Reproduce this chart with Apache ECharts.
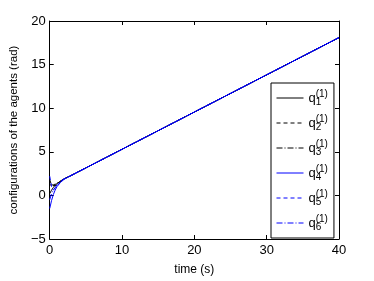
<!DOCTYPE html>
<html><head><meta charset="utf-8">
<script src="https://cdn.jsdelivr.net/npm/echarts@6/dist/echarts.min.js"></script>
<style>html,body{margin:0;padding:0;background:#fff}#c{width:374px;height:281px}</style>
</head><body><div id="c"></div>
<script>
var time = [0, 0.25, 0.5, 0.75, 1, 1.5, 2, 3, 40];
var q1 = [0.2, 0.6, 0.9, 1.2, 1.4, 1.65, 1.9, 2.3, 18.1];
var q2 = [1.8, 1.2, 1.0, 1.1, 1.3, 1.6, 1.9, 2.3, 18.1];
var q3 = [1.2, 1.4, 1.2, 1.2, 1.4, 1.65, 1.9, 2.3, 18.1];
var q4 = [-1.5, -0.6, 0.1, 0.6, 1.0, 1.5, 1.85, 2.3, 18.1];
var q5 = [2.2, 1.0, 0.6, 0.8, 1.1, 1.55, 1.9, 2.3, 18.1];
var q6 = [-0.5, 0.2, 0.6, 0.9, 1.2, 1.6, 1.9, 2.3, 18.1];
var xTicks = [0, 10, 20, 30, 40];
var yTicks = [-5, 0, 5, 10, 15, 20];

var names = ['q1', 'q2', 'q3', 'q4', 'q5', 'q6'];
var data = [q1, q2, q3, q4, q5, q6];
var colors = ['#000000', '#000000', '#000000', '#0000ff', '#0000ff', '#0000ff'];
var types = ['solid', [4, 3], [6, 2, 1, 2], 'solid', [4, 3], [6, 2, 1, 2]];
var font = 'Liberation Sans, Arial, sans-serif';

function pairs(ys) { return time.map(function (t, i) { return [t, ys[i]]; }); }

var series = names.map(function (n, i) {
  return {
    name: n, type: 'line', data: pairs(data[i]), symbol: 'none', smooth: false,
    lineStyle: { color: colors[i], width: 1, type: types[i] },
    itemStyle: { color: colors[i] },
    z: i >= 3 ? 3 : 2
  };
});

var axCommonX = {
  type: 'value', min: xTicks[0], max: xTicks[xTicks.length - 1], interval: 10,
  axisLine: { onZero: false, lineStyle: { color: '#000', width: 1 } },
  axisTick: { inside: true, length: 4, lineStyle: { color: '#000' } },
  splitLine: { show: false }
};
var axCommonY = {
  type: 'value', min: yTicks[0], max: yTicks[yTicks.length - 1], interval: 5,
  axisLine: { onZero: false, lineStyle: { color: '#000', width: 1 } },
  axisTick: { inside: true, length: 4, lineStyle: { color: '#000' } },
  splitLine: { show: false }
};

var chart = echarts.init(document.getElementById('c'), null, { renderer: 'canvas' });
chart.setOption({
  animation: false,
  backgroundColor: '#fff',
  grid: { left: 48, top: 21, right: 35, bottom: 33, containLabel: false },
  xAxis: [
    Object.assign({}, axCommonX, {
      position: 'bottom',
      name: 'time (s)', nameLocation: 'middle', nameGap: 25,
      nameTextStyle: { fontFamily: font, fontSize: 12, color: '#000' },
      axisLabel: { fontFamily: font, fontSize: 13, color: '#000', margin: 5 }
    }),
    Object.assign({}, axCommonX, { position: 'top', axisLabel: { show: false } })
  ],
  yAxis: [
    Object.assign({}, axCommonY, {
      position: 'left',
      name: 'configurations of the agents (rad)', nameLocation: 'middle', nameGap: 23,
      nameTextStyle: { fontFamily: font, fontSize: 11.5, color: '#000' },
      axisLabel: {
        fontFamily: font, fontSize: 13, color: '#000', margin: 4,
        formatter: function (v) { return v < 0 ? '\u2212' + Math.abs(v) : String(v); }
      }
    }),
    Object.assign({}, axCommonY, { position: 'right', axisLabel: { show: false } })
  ],
  legend: {
    orient: 'vertical', left: 271, top: 83,
    width: 66,
    itemWidth: 27, itemHeight: 10, itemGap: 7,
    padding: [6, 6, 6, 5],
    backgroundColor: '#fff', borderColor: '#000', borderWidth: 1,
    itemStyle: { opacity: 0 },
    lineStyle: { width: 1 },
    data: names,
    formatter: function (n) {
      return '{q|q}{sup|(1)}{sub|' + n.slice(1) + '}';
    },
    textStyle: {
      fontFamily: font, color: '#000', fontSize: 11,
      lineHeight: 18,
      rich: {
        q: { fontFamily: font, fontSize: 13, color: '#000', verticalAlign: 'middle' },
        sup: { fontFamily: font, fontSize: 10, color: '#000', width: 0, verticalAlign: 'top' },
        sub: { fontFamily: font, fontSize: 10, color: '#000', verticalAlign: 'bottom' }
      }
    }
  },
  series: series
});
</script></body></html>
